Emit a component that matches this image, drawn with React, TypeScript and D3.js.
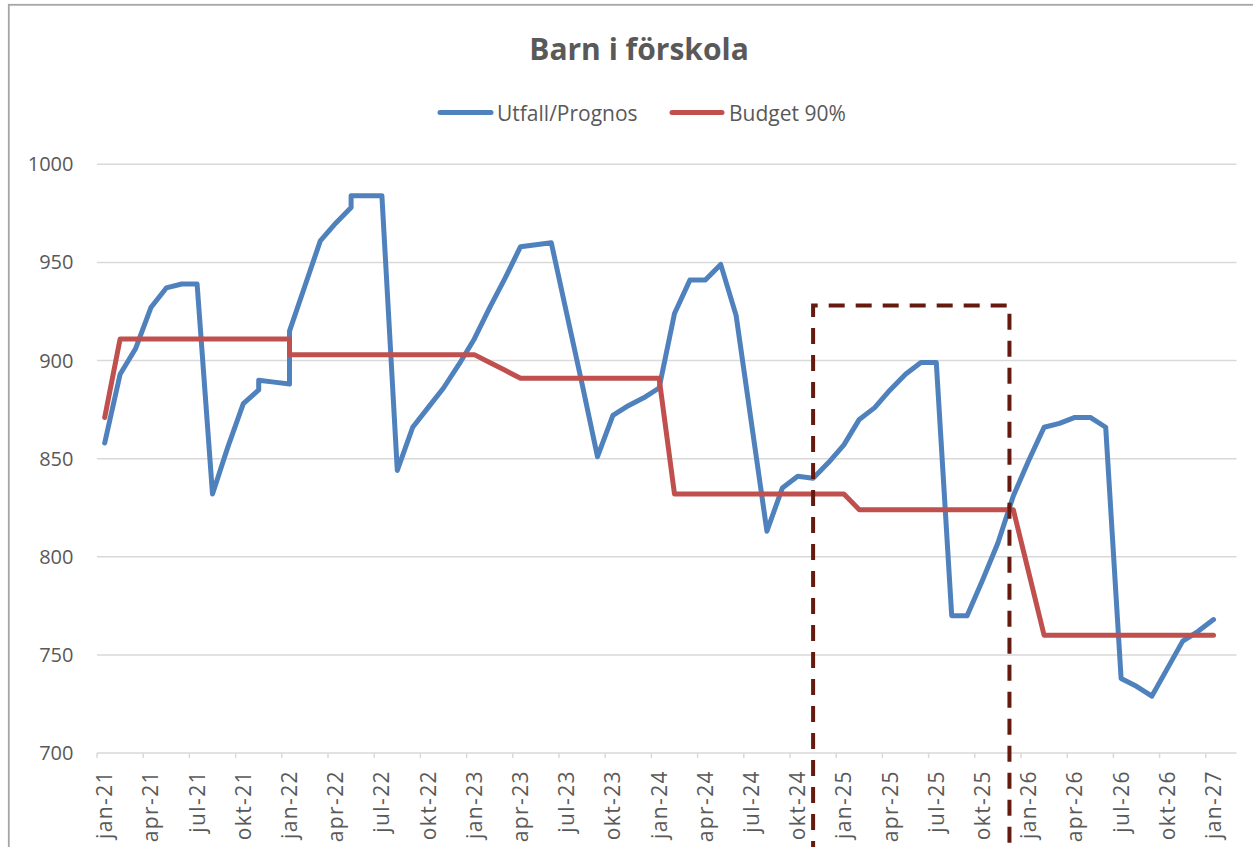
import * as d3 from "d3";
import React from "react";

const width = 1253;
const height = 847;

// månader (duplicerade datum förekommer i källdatan)
const periods = [
  "2021-01", "2021-02", "2021-03", "2021-04", "2021-05", "2021-06", "2021-07", "2021-08", "2021-09", "2021-10",
  "2021-11", "2021-11", "2021-12", "2022-01", "2022-01", "2022-02", "2022-03", "2022-04", "2022-05", "2022-05",
  "2022-06", "2022-07", "2022-08", "2022-09", "2022-10", "2022-11", "2022-12", "2023-01", "2023-02", "2023-03",
  "2023-04", "2023-05", "2023-06", "2023-07", "2023-08", "2023-09", "2023-10", "2023-11", "2023-12", "2024-01",
  "2024-02", "2024-03", "2024-04", "2024-05", "2024-06", "2024-07", "2024-08", "2024-09", "2024-10", "2024-11",
  "2024-12", "2025-01", "2025-02", "2025-03", "2025-04", "2025-05", "2025-06", "2025-07", "2025-08", "2025-09",
  "2025-10", "2025-11", "2025-12", "2026-01", "2026-02", "2026-03", "2026-04", "2026-05", "2026-06", "2026-07",
  "2026-08", "2026-09", "2026-10", "2026-11", "2026-12", "2027-01",
];

const utfall = [
  858, 893, 906, 927, 937, 939, 939, 832, 856, 878,
  885, 890, 889, 888, 915, 938, 961, 970, 978, 984,
  984, 984, 844, 866, 876, 886, 898, 911, 927, 942,
  958, 959, 960, 924, 888, 851, 872, 877, 881, 886,
  924, 941, 941, 949, 923, 868, 813, 835, 841, 840,
  848, 857, 870, 876, 885, 893, 899, 899, 770, 770,
  788, 807, 831, 849, 866, 868, 871, 871, 866, 738,
  734, 729, 743, 757, 762, 768,
];

const budget = [
  871, 911, 911, 911, 911, 911, 911, 911, 911, 911,
  911, 911, 911, 911, 903, 903, 903, 903, 903, 903,
  903, 903, 903, 903, 903, 903, 903, 903, 899, 895,
  891, 891, 891, 891, 891, 891, 891, 891, 891, 891,
  832, 832, 832, 832, 832, 832, 832, 832, 832, 832,
  832, 832, 824, 824, 824, 824, 824, 824, 824, 824,
  824, 824, 824, 792, 760, 760, 760, 760, 760, 760,
  760, 760, 760, 760, 760, 760,
];

const monthNames = ["jan", "feb", "mar", "apr", "maj", "jun", "jul", "aug", "sep", "okt", "nov", "dec"];
const yTicks = [700, 750, 800, 850, 900, 950, 1000];
const seriesNames = ["Utfall/Prognos", "Budget 90%"];
const colors = ["#4F81BD", "#C0504D"];

// markerad period (ritad ruta)
const boxStart = 46.5;
const boxEnd = 59.25;
const boxTop = 928;

const nCategories = 74;

const monthIndex = (p: string) => {
  const [y, m] = p.split("-").map(Number);
  return (y - 2021) * 12 + (m - 1);
};

const textColor = "#595959";
const gridColor = "#D9D9D9";

export default function App() {
  const x = d3.scaleLinear().domain([0, nCategories]).range([97, 1236.6]);
  const y = d3.scaleLinear().domain([700, 1000]).range([753, 164.3]);

  const line = d3
    .line<[number, number]>()
    .x((d) => x(d[0] + 0.5))
    .y((d) => y(d[1]));

  const idx = periods.map(monthIndex);
  const series = [utfall, budget].map((vals) => vals.map((v, i) => [idx[i], v] as [number, number]));

  const labelIdx = d3.range(0, nCategories, 3).filter((i) => i <= 72);
  const label = (i: number) => `${monthNames[i % 12]}-${21 + Math.floor(i / 12)}`;

  const font = "'Open Sans', sans-serif";

  return (
    <svg
      width={width}
      height={height}
      style={{ position: "absolute", left: 0, top: 0, background: "#fff" }}
    >
      <rect x={8.8} y={4.8} width={1400} height={1000} fill="#fff" stroke="#A6A6A6" strokeWidth={1.8} />

      <text x={639} y={60} textAnchor="middle" fontFamily={font} fontWeight={700} fontSize={30} fill={textColor}>
        Barn i förskola
      </text>

      {/* legend */}
      <g fontFamily={font} fontSize={21} fill={textColor}>
        <line x1={440} x2={491} y1={112.5} y2={112.5} stroke={colors[0]} strokeWidth={5} strokeLinecap="round" />
        <text x={497} y={121}>{seriesNames[0]}</text>
        <line x1={672} x2={722} y1={112.5} y2={112.5} stroke={colors[1]} strokeWidth={5} strokeLinecap="round" />
        <text x={729} y={121}>{seriesNames[1]}</text>
      </g>

      {/* grid + y axis */}
      {yTicks.map((t) => (
        <g key={t}>
          <line x1={x(0)} x2={x(nCategories)} y1={y(t)} y2={y(t)} stroke={gridColor} strokeWidth={1.5} />
          <text
            x={73.5}
            y={y(t)}
            dy="0.35em"
            textAnchor="end"
            fontFamily={font}
            fontSize={20}
            fill={textColor}
          >
            {t}
          </text>
        </g>
      ))}

      {/* x axis ticks */}
      {labelIdx.map((i) => (
        <line key={"t" + i} x1={x(i)} x2={x(i)} y1={y(700)} y2={y(700) + 5} stroke={gridColor} strokeWidth={1.5} />
      ))}
      {labelIdx.map((i) => (
        <text
          key={"l" + i}
          transform={`translate(${x(i + 0.5)},${y(700) + 17}) rotate(-90)`}
          dy="0.36em"
          textAnchor="end"
          fontFamily={font}
          fontSize={21}
          letterSpacing={1.4}
          fill={textColor}
        >
          {label(i)}
        </text>
      ))}

      {/* serier */}
      {series.map((s, k) => (
        <path
          key={k}
          d={line(s) || ""}
          fill="none"
          stroke={colors[k]}
          strokeWidth={5}
          strokeLinejoin="round"
          strokeLinecap="round"
        />
      ))}

      {/* streckad ruta */}
      <path
        d={`M${x(boxStart)},${height + 10} V${y(boxTop)} H${x(boxEnd)} V${height + 10}`}
        fill="none"
        stroke="#641A0E"
        strokeWidth={4}
        strokeDasharray="16 11"
      />
    </svg>
  );
}
